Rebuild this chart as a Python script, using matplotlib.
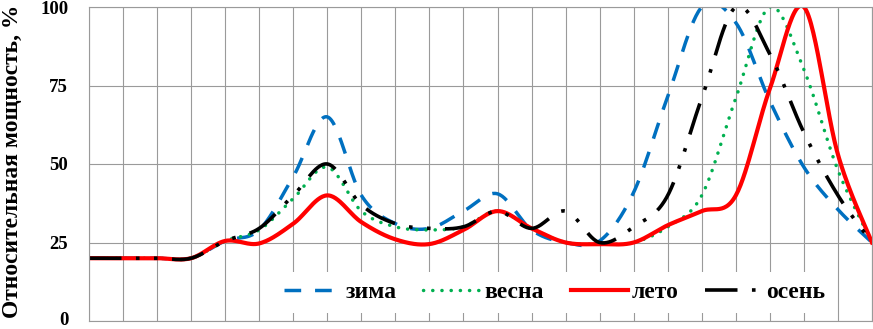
import numpy as np
import matplotlib
matplotlib.use("Agg")
import matplotlib.pyplot as plt
from matplotlib.transforms import ScaledTranslation

plt.rcParams['font.family'] = ['Liberation Serif', 'DejaVu Serif']
plt.rcParams['font.weight'] = 'bold'

# hourly values, % of peak
hours = np.arange(24)
zima = [20, 20, 20, 20, 25.5, 29, 46, 65, 40, 31, 29.5, 35, 40.5, 29, 25, 25.5,
        41, 71.5, 100, 95, 70, 49, 35.5, 25]
vesna = [20, 20, 20, 20, 25.5, 29, 39, 49, 35, 30, 29, 30, 35, 29.5, 25, 24.5,
         25, 30, 40, 71, 100, 80, 48, 25]
leto = [20, 20, 20, 20, 25.5, 24.7, 31, 40, 31.5, 26, 24.5, 29, 35, 29.5, 25, 24.5,
        25, 30.5, 35, 40, 74, 100, 53, 25]
osen = [20, 20, 20, 20, 25.5, 29.5, 40, 50, 37, 31, 29.5, 30, 35, 29.5, 35, 25,
        30, 40, 71, 100, 85, 60, 40, 25]
labels = ['зима', 'весна', 'лето', 'осень']
y_ticks = [0, 25, 50, 75, 100]


def smooth(x, y, n=30):
    # Excel-style smoothed line (Bezier through points, tension 1/6)
    p = np.column_stack([x, y]).astype(float)
    pts = [p[0]]
    for i in range(len(p) - 1):
        p0 = p[i - 1] if i > 0 else p[i]
        p1, p2 = p[i], p[i + 1]
        p3 = p[i + 2] if i + 2 < len(p) else p[i + 1]
        c1 = p1 + (p2 - p0) / 6
        c2 = p2 - (p3 - p1) / 6
        t = np.linspace(0, 1, n)[1:, None]
        seg = ((1 - t) ** 3 * p1 + 3 * (1 - t) ** 2 * t * c1
               + 3 * (1 - t) * t ** 2 * c2 + t ** 3 * p2)
        pts.extend(seg)
    pts = np.array(pts)
    return pts[:, 0], pts[:, 1]


fig = plt.figure(figsize=(8.73, 3.29), dpi=100)
ax = fig.add_axes([89 / 873, 8 / 329, 783 / 873, 314 / 329])

x, y = smooth(hours, zima)
ax.plot(x, y, color='#0070C0', lw=2.5, dashes=(4.8, 4), solid_capstyle='butt',
        label=labels[0])
x, y = smooth(hours, vesna)
ax.plot(x, y, color='#00B050', lw=2.5, dashes=(0.05, 2.6), dash_capstyle='round',
        label=labels[1])
x, y = smooth(hours, leto)
ax.plot(x, y, color='#FF0000', lw=3.0, label=labels[2])
x, y = smooth(hours, osen)
ax.plot(x, y, color='black', lw=2.6, dashes=(9, 4, 1, 4, 1, 4), label=labels[3])

ax.set_xlim(0, 23)
ax.set_ylim(0, 100)
ax.set_xticks(hours)
ax.set_xticklabels([])
ax.set_yticks(y_ticks)
ax.set_yticklabels([str(v) for v in y_ticks], fontsize=13.5, fontweight='bold')
ax.tick_params(length=0)
ax.tick_params(axis='y', pad=15)
ax.grid(True, color='#9a9a9a', lw=0.8)
ax.set_axisbelow(True)
for s in ax.spines.values():
    s.set_color('#9a9a9a')
    s.set_linewidth(0.8)

# nudge the "0" label up a little so it stays inside the picture
zero = ax.get_yticklabels()[0]
zero.set_transform(zero.get_transform() + ScaledTranslation(0, 2 / 72, fig.dpi_scale_trans))

# y label sized so it runs from about y=5 to y=318 px, as in the original
ylab = fig.text(12 / 873, 1 - 161.5 / 329, 'Относительная мощность, %',
                rotation=90, ha='center', va='center', fontsize=15,
                fontweight='bold')
fig.canvas.draw()
h = ylab.get_window_extent().height
ylab.set_fontsize(15 * 313 / h)

leg = ax.legend(ncol=4, loc='lower left', bbox_to_anchor=(0.2375, 0.026),
                frameon=True, facecolor='white', edgecolor='none', framealpha=1,
                fancybox=False, prop={'size': 17, 'weight': 'bold'},
                handlelength=2.41, handletextpad=0.17, columnspacing=1.14,
                borderpad=0.4, borderaxespad=0)

fig.savefig('out.png', dpi=100)
